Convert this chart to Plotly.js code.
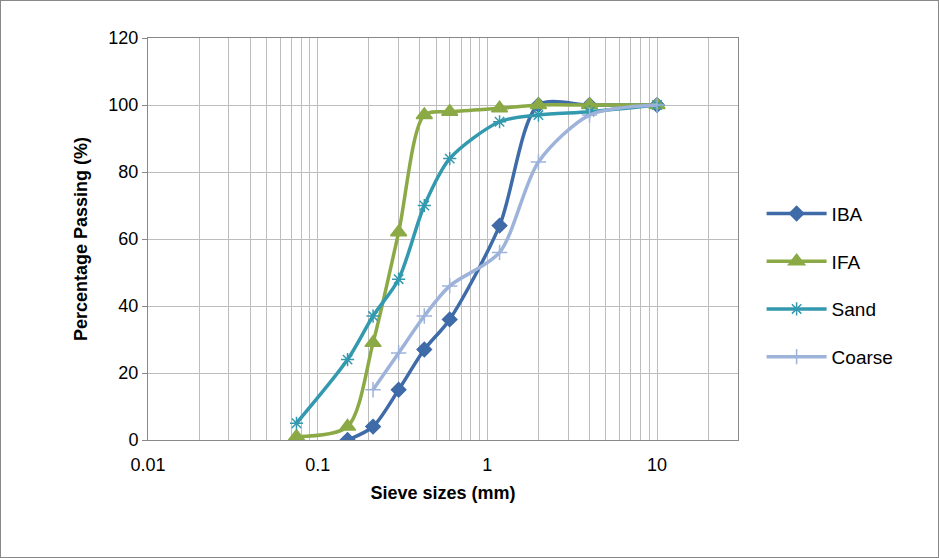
<!DOCTYPE html>
<html><head><script src="https://cdn.plot.ly/plotly-3.0.1.min.js"></script>
<style>body{margin:0}#c{width:939px;height:558px;box-sizing:border-box;border:1px solid #888}</style></head>
<body><div id="c"></div><script>
const ibaX=[0.15,0.212,0.3,0.425,0.6,1.18,2,4,10];
const ibaY=[0,4,15,27,36,64,100,100,100];
const ifaX=[0.075,0.15,0.212,0.3,0.425,0.6,1.18,2,4,10];
const ifaY=[1,4,29,62,97,98,99,100,100,100];
const sandX=[0.075,0.15,0.212,0.3,0.425,0.6,1.18,2,4,10];
const sandY=[5,24,37,48,70,84,95,97,98,100];
const coarseX=[0.212,0.3,0.425,0.6,1.18,2,4,10];
const coarseY=[15,26,37,46,56,83,97,100];
const tv=[],tt=[];
for(const d of [0.01,0.1,1,10]){for(let k=1;k<=9;k++){const v=d*k;if(v>30)break;tv.push(v);tt.push(k===1?String(d):'');}}
tv.push(20);tt.push('');
function tr(name,x,y,color,sym,sz){return {x,y,name,legendgroup:name,type:'scatter',mode:'lines+markers',line:{color,width:3.5,shape:'spline',smoothing:0.8},marker:{symbol:sym,size:sz,color,line:{color,width:1.5}}};}
Plotly.newPlot('c',[
tr('IBA',ibaX,ibaY,'#3F6BA8','diamond',11),
tr('IFA',ifaX,ifaY,'#8BAA46','triangle-up',14),
tr('Sand',sandX,sandY,'#3399AE','asterisk-open',11),
tr('Coarse',coarseX,coarseY,'#9DB3DA','cross-thin-open',11)
],{width:937,height:556,margin:{l:147,r:200,t:37,b:117},paper_bgcolor:'#fff',plot_bgcolor:'#fff',
font:{family:'Liberation Sans, Arial',size:18,color:'#000'},
xaxis:{type:'log',range:[-2,Math.log10(30)],tickvals:tv,ticktext:tt,ticks:'',ticklabelstandoff:8,showgrid:true,gridcolor:'#BDBDBD',linecolor:'#888',mirror:true,showline:true,zeroline:false,
title:{text:'<b>Sieve sizes (mm)</b>',font:{size:18},standoff:12}},
yaxis:{range:[0,120],dtick:20,gridcolor:'#BDBDBD',linecolor:'#888',mirror:true,showline:true,zeroline:false,ticks:'outside',ticklen:5,tickcolor:'#888',
title:{text:'<b>Percentage Passing (%)</b>',font:{size:18},standoff:16}},
legend:{x:1.04,y:0.16,yanchor:'bottom',font:{size:19},tracegroupgap:20,itemwidth:60}
},{displayModeBar:false});
</script></body></html>
